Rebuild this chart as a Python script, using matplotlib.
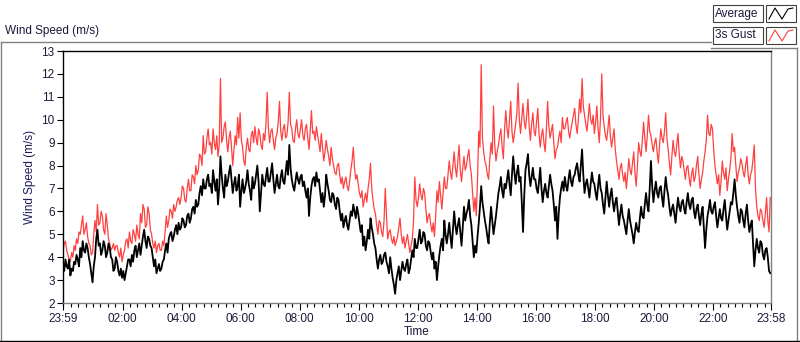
import numpy as np
import matplotlib
matplotlib.use("Agg")
import matplotlib.pyplot as plt
from matplotlib.lines import Line2D
from matplotlib.patches import Rectangle

# ---- data (2.5-minute samples, one row per hour starting 23:59) ----
average_ms = [
    3.6,3.4, 3.9,3.6, 3.5,3.9, 3.2,3.5, 3.4,3.8, 3.7,4.1, 3.9,3.6, 4.4,4.0, 4.7,4.3, 4.2,4.6, 4.4,4.0, 3.7,3.3,
    2.9,3.6, 4.0,4.8, 5.2,4.5, 4.6,4.1, 4.3,4.7, 4.5,4.0, 4.2,4.6, 4.4,4.0, 3.9,3.4, 3.5,4.0, 3.8,3.4, 3.2,3.5,
    3.1,3.4, 3.0,3.3, 3.6,3.9, 3.9,3.6, 4.1,3.8, 4.3,4.5, 4.0,4.3, 4.6,4.1, 4.5,4.9, 5.2,4.7, 4.4,4.9, 4.8,4.5,
    4.4,4.0, 3.6,3.9, 3.3,3.5, 3.7,3.4, 3.5,3.8, 3.9,4.3, 4.6,4.2, 4.8,5.0, 5.1,4.7, 4.9,5.2, 5.4,5.0, 5.5,5.2,
    5.3,5.7, 5.6,5.3, 5.4,5.8, 5.9,5.5, 5.7,6.1, 6.2,5.9, 6.5,6.2, 6.3,6.8, 7.1,6.7, 7.4,7.0, 7.0,7.4, 7.6,7.1,
    7.2,6.8, 7.8,7.3, 6.9,7.4, 6.3,7.0, 8.4,7.6, 7.0,6.6, 7.6,7.1, 7.3,7.7, 8.0,7.4, 6.8,7.2, 7.5,6.9, 7.1,7.6,
    6.2,6.9, 7.4,6.8, 7.0,7.3, 7.8,7.2, 6.9,6.5, 7.5,7.0, 7.2,7.6, 8.0,7.3, 6.0,6.8, 7.6,7.2, 7.1,7.5, 7.9,7.3,
    7.3,7.7, 8.1,7.4, 6.8,7.2, 7.6,7.1, 7.0,7.5, 7.8,7.3, 7.2,7.7, 8.2,7.6, 8.9,7.9, 7.4,7.1, 6.9,7.3, 7.7,7.4,
    7.2,7.5, 7.6,7.1, 7.3,6.9, 6.6,7.0, 5.8,6.6, 7.1,7.4, 7.5,7.1, 7.7,7.3, 7.4,6.9, 6.4,6.8, 6.2,6.7, 7.6,7.2,
    6.9,6.5, 6.4,6.8, 6.7,6.3, 6.1,6.6, 6.5,6.0, 5.6,5.9, 5.3,5.6, 5.8,5.4, 5.2,5.6, 6.0,5.8, 6.3,6.0, 5.7,6.2,
    5.9,5.5, 5.1,5.4, 4.5,4.9, 4.3,4.7, 5.2,4.8, 5.7,5.3, 5.0,4.6, 4.4,3.9, 3.5,3.9, 4.1,3.7, 3.8,4.1, 4.2,3.8,
    3.6,3.3, 4.0,3.5, 3.1,2.8, 2.4,3.0, 3.3,3.6, 3.0,3.4, 3.8,3.5, 3.4,3.7, 3.9,3.3, 3.5,3.9, 4.3,4.0, 4.8,4.4,
    4.4,4.8, 5.2,4.6, 4.7,5.1, 5.0,4.5, 4.3,4.7, 4.6,4.2, 3.9,4.2, 3.5,3.8, 3.0,3.6, 4.1,4.5, 4.8,4.3, 5.6,5.0,
    4.6,5.0, 5.5,4.9, 4.4,5.2, 6.0,5.4, 5.0,5.4, 5.7,5.1, 4.5,5.3, 6.2,5.6, 5.9,6.1, 6.5,5.8, 5.4,4.7, 4.0,4.5,
    4.2,4.9, 5.5,6.2, 7.1,6.4, 6.0,5.6, 5.3,4.9, 4.6,5.5, 6.2,5.6, 5.0,5.4, 5.8,6.3, 6.8,7.1, 7.5,6.9, 6.6,7.2,
    7.0,7.4, 7.8,7.2, 6.7,7.6, 8.4,7.7, 7.2,7.7, 8.0,7.3, 7.5,6.4, 5.1,6.7, 7.8,8.1, 8.5,7.6, 7.1,7.5, 7.9,7.4,
    7.4,7.0, 6.8,7.3, 7.9,7.0, 6.4,6.9, 7.2,6.8, 6.6,7.1, 7.6,7.2, 6.9,6.3, 5.6,6.2, 4.8,5.9, 6.6,7.0, 7.3,6.9,
    7.5,7.1, 6.9,7.4, 7.8,7.3, 7.1,7.5, 7.6,7.9, 8.1,7.6, 7.3,8.0, 8.7,7.6, 6.8,7.2, 7.4,7.0, 6.6,7.2, 7.7,7.3,
    7.2,6.8, 6.5,7.1, 7.6,7.0, 6.8,6.3, 5.9,6.6, 7.3,6.7, 6.2,6.7, 7.0,6.4, 6.0,6.4, 6.6,6.0, 5.4,5.9, 6.3,5.8,
    5.6,5.3, 5.0,5.6, 6.1,5.6, 5.3,5.0, 4.6,5.1, 5.5,5.2, 5.1,5.7, 6.2,5.8, 5.7,6.3, 6.8,6.3, 6.0,7.0, 8.2,7.1,
    6.4,6.9, 7.3,6.8, 6.6,7.0, 7.1,6.6, 6.2,6.9, 7.5,7.0, 6.7,6.2, 5.8,6.1, 6.3,5.9, 5.5,6.1, 6.6,6.2, 6.0,6.4,
    6.5,6.1, 5.9,6.4, 6.8,6.3, 6.1,6.5, 6.6,6.0, 5.7,6.1, 6.3,5.8, 5.4,5.9, 6.2,5.3, 4.4,5.2, 5.8,6.1, 6.5,6.0,
    5.9,6.2, 6.4,5.8, 5.3,5.7, 6.1,5.7, 5.6,6.1, 6.5,5.8, 5.2,5.6, 6.0,6.4, 6.3,6.8, 7.4,6.7, 6.2,5.8, 5.5,6.1,
    6.0,5.6, 5.3,5.9, 6.3,5.6, 5.1,5.4, 5.6,4.6, 3.6,4.3, 4.8,4.4, 4.2,4.7, 4.6,4.1, 3.9,4.3, 4.4,4.0, 3.4,3.3,
]
gust_ms = [
    4.3,4.6, 4.7,4.3, 4.1,3.9, 3.8,4.2, 4.0,4.5, 4.3,4.8, 4.6,5.1, 5.0,5.4, 5.8,5.0, 5.2,5.5, 4.9,4.6, 4.5,4.1,
    4.2,5.0, 5.6,5.1, 6.3,5.4, 5.5,6.0, 5.8,5.2, 5.0,5.9, 5.4,4.8, 4.6,4.3, 4.4,4.6, 4.3,4.5, 4.5,4.2, 4.0,4.4,
    3.8,4.1, 4.3,4.7, 4.8,4.4, 5.1,4.7, 4.6,5.2, 5.0,4.7, 5.4,5.0, 4.8,5.9, 5.5,6.3, 6.1,5.3, 5.4,6.2, 5.9,5.2,
    5.0,4.6, 4.4,4.7, 4.2,4.5, 4.6,4.3, 4.3,4.7, 4.5,5.1, 5.8,5.3, 5.6,6.1, 6.0,5.7, 6.3,6.0, 6.2,6.5, 6.6,6.3,
    6.6,7.1, 7.0,6.5, 6.4,7.0, 7.4,6.9, 6.9,7.6, 7.5,7.2, 8.0,7.6, 7.8,8.5, 8.4,8.0, 9.3,8.5, 8.6,9.2, 9.6,8.9,
    9.0,8.5, 9.6,9.0, 8.7,9.3, 8.4,8.9, 11.8,9.0, 9.2,9.7, 9.9,9.1, 8.6,9.2, 9.5,8.8, 8.0,8.7, 9.3,8.9, 10.1,9.2,
    10.3,9.1, 8.8,8.2, 8.0,8.8, 9.2,8.7, 8.6,9.3, 9.5,9.0, 9.7,9.2, 8.9,9.6, 9.4,8.9, 8.7,9.4, 9.1,9.8, 11.2,9.6,
    9.0,9.5, 9.6,9.1, 8.7,9.2, 9.4,9.9, 10.8,9.5, 9.1,9.6, 9.8,9.2, 9.3,9.9, 11.2,9.8, 9.6,9.1, 9.0,9.6, 10.0,9.4,
    9.2,9.6, 10.0,9.3, 9.1,9.6, 9.8,9.2, 8.7,9.5, 10.4,9.4, 9.5,9.1, 9.7,9.3, 9.0,8.6, 9.4,8.8, 8.2,8.6, 9.1,8.7,
    8.4,8.0, 8.8,8.3, 8.0,7.7, 7.6,8.0, 8.1,7.6, 7.2,7.5, 7.0,7.3, 7.5,7.1, 6.9,7.3, 7.8,8.2, 8.8,7.9, 7.4,7.6,
    7.2,6.8, 6.6,6.9, 6.2,6.5, 6.8,6.4, 7.0,7.4, 8.1,7.0, 6.5,6.1, 5.9,5.4, 5.0,5.6, 5.5,5.1, 4.9,5.6, 7.0,5.8,
    4.8,5.1, 5.2,4.8, 4.6,4.9, 4.5,4.7, 4.9,5.3, 5.7,5.0, 4.6,4.9, 4.4,4.7, 5.0,4.6, 4.2,4.5, 4.8,5.6, 7.5,6.5,
    6.2,6.6, 7.2,6.7, 6.5,7.0, 6.8,6.1, 5.5,5.8, 5.9,5.4, 5.1,5.5, 4.9,5.8, 6.9,6.4, 7.3,6.7, 6.1,6.8, 7.5,7.0,
    7.0,7.6, 8.2,7.7, 7.4,8.0, 8.6,7.9, 7.5,8.2, 8.9,7.8, 7.3,7.9, 8.4,7.8, 8.0,8.4, 8.7,8.0, 7.6,6.8, 6.0,6.6,
    5.8,7.4, 9.5,8.8, 12.4,9.2, 8.6,8.2, 8.0,7.6, 7.4,8.3, 9.0,8.5, 10.6,8.9, 8.2,8.6, 8.9,9.3, 9.6,8.8, 8.3,9.6,
    10.4,9.6, 9.2,10.0, 10.8,9.5, 9.0,9.4, 9.8,10.3, 11.6,10.0, 9.4,10.1, 10.7,9.9, 9.6,10.2, 10.9,9.7, 9.1,9.8, 10.3,9.5,
    9.3,9.9, 10.5,9.4, 8.8,9.3, 9.6,9.0, 8.6,9.6, 10.8,9.7, 9.2,9.5, 9.8,9.0, 8.3,8.7, 8.8,9.2, 9.5,9.0, 10.1,9.6,
    9.6,9.9, 10.1,9.5, 9.2,9.6, 9.9,10.2, 10.5,9.8, 9.4,10.0, 10.9,10.3, 11.8,10.6, 10.2,9.8, 9.5,10.1, 10.7,10.0, 9.8,10.2,
    9.4,9.9, 10.6,9.6, 9.0,10.1, 12.0,10.2, 9.7,9.3, 9.1,9.6, 10.2,9.3, 8.8,9.2, 9.6,8.7, 8.2,7.8, 7.4,7.9, 8.1,7.6,
    7.3,7.7, 7.0,7.6, 8.3,7.8, 7.6,8.1, 8.6,7.7, 7.1,8.0, 9.0,8.6, 8.4,9.1, 9.9,9.2, 8.6,9.3, 10.2,9.5, 9.3,8.9,
    8.6,9.0, 9.2,8.6, 8.1,8.9, 9.6,9.2, 9.0,9.5, 10.3,9.2, 8.7,8.1, 7.6,8.4, 9.1,8.6, 8.4,8.9, 9.4,8.5, 7.9,8.4,
    8.2,7.8, 7.4,7.9, 8.0,7.5, 7.1,7.6, 7.9,7.3, 7.5,8.0, 8.4,7.6, 7.0,7.4, 7.7,8.2, 8.6,9.1, 10.2,9.4, 9.3,9.8,
    9.6,8.7, 8.0,7.6, 7.2,7.6, 6.7,7.3, 8.2,7.7, 7.4,7.9, 6.9,7.4, 7.8,8.3, 9.4,8.6, 8.8,8.0, 7.3,7.7, 7.9,8.3,
    8.1,7.7, 7.5,8.0, 8.4,7.6, 7.2,7.6, 7.8,8.3, 8.9,7.0, 6.2,5.8, 5.6,6.1, 6.0,5.6, 5.3,5.9, 6.6,5.6, 5.1,6.6,
]
sample_step_min = 2.5
x_tick_labels = ["23:59", "02:00", "04:00", "06:00", "08:00", "10:00", "12:00",
                 "14:00", "16:00", "18:00", "20:00", "22:00", "23:58"]
x_tick_minutes = [0, 121, 241, 361, 481, 601, 721, 841, 961, 1081, 1201, 1321, 1439]
y_ticks = list(range(2, 14))
series_names = ["Average", "3s Gust"]

# ---- figure ----
W, H = 800, 342
fig = plt.figure(figsize=(W / 100, H / 100), dpi=100)
fig.patch.set_facecolor("white")
plt.rcParams['font.family'] = ['Liberation Sans', 'DejaVu Sans']

def fx(x):
    return x / W

def fy(y):
    return 1 - y / H

TXT = "#1a1a3a"
GRAY = "#808080"

ax = fig.add_axes([fx(63), fy(303), fx(771) - fx(63), fy(51) - fy(303)])
t = np.arange(len(average_ms)) * sample_step_min
ax.plot(t, gust_ms, color="#ff4040", lw=0.9, zorder=2)
ax.plot(t, average_ms, color="black", lw=1.3, zorder=3)
ax.set_xlim(0, 1439)
ax.set_ylim(2, 13)

for s in ["left", "top"]:
    ax.spines[s].set_color("black")
    ax.spines[s].set_linewidth(1.0)
for s in ["right", "bottom"]:
    ax.spines[s].set_color(GRAY)
    ax.spines[s].set_linewidth(1.0)

ax.set_yticks(y_ticks)
ax.set_yticklabels([str(v) for v in y_ticks])
ax.set_xticks(x_tick_minutes)
ax.set_xticklabels(x_tick_labels)
minor = [m for m in range(1, 1440, 15) if m not in x_tick_minutes]
ax.set_xticks(minor, minor=True)
ax.tick_params(axis="y", direction="out", length=4, width=0.8, color="black",
               labelsize=8.5, labelcolor=TXT, pad=2)
ax.tick_params(axis="x", which="major", direction="out", length=5, width=0.8,
               color="black", labelsize=8.5, labelcolor=TXT, pad=2)
ax.tick_params(axis="x", which="minor", direction="out", length=3, width=0.8,
               color="black")
ax.set_xlabel("Time", fontsize=8.5, color=TXT, labelpad=1)
ax.set_ylabel("Wind Speed (m/s)", fontsize=8.5, color="#1a1a5a", labelpad=4)

# ---- panel decoration ----
def fline(xs, ys, color, lw=1.0):
    fig.add_artist(Line2D([fx(v) for v in xs], [fy(v) for v in ys],
                          color=color, lw=lw, transform=fig.transFigure))

fline([1, 1], [42, 341], GRAY)
fline([1, 711], [42, 42], GRAY)
fline([711, 797], [48, 48], GRAY)
fline([797, 797], [48, 341], GRAY)
fline([0, 800], [341, 341], "black")

fig.text(fx(5), fy(31), "Wind Speed (m/s)", fontsize=8.5, color=TXT,
         ha="left", va="center")

# legend
leg_colors = ["black", "#ff4040"]
for i, (name, col) in enumerate(zip(series_names, leg_colors)):
    y0 = 5 + i * 22
    fig.add_artist(Rectangle((fx(713), fy(y0 + 17)), fx(763) - fx(713), fy(y0) - fy(y0 + 17),
                             facecolor="white", edgecolor="#404040", lw=0.8,
                             transform=fig.transFigure))
    fig.add_artist(Rectangle((fx(766), fy(y0 + 17)), fx(796) - fx(766), fy(y0) - fy(y0 + 17),
                             facecolor="white", edgecolor="#404040", lw=0.8,
                             transform=fig.transFigure))
    fig.text(fx(715), fy(y0 + 8.5), name, fontsize=8.5, color=TXT,
             ha="left", va="center")
    fline([769, 775, 782, 788, 793], [y0 + 14, y0 + 3, y0 + 14, y0 + 4, y0 + 3], col, lw=0.8)

fig.savefig("out.png", dpi=100)
